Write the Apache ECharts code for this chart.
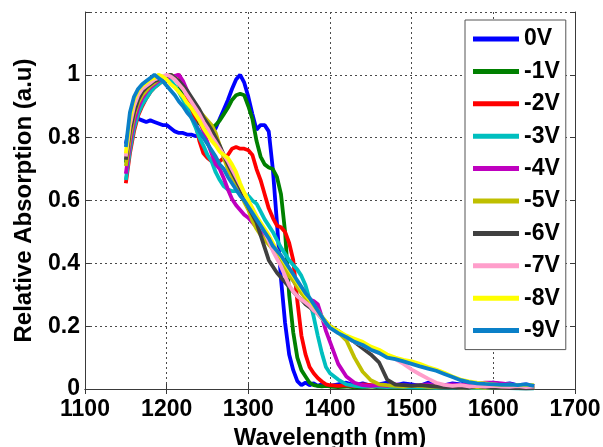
<!DOCTYPE html>
<html>
<head>
<meta charset="utf-8">
<script src="https://cdn.jsdelivr.net/npm/echarts@6/dist/echarts.min.js"></script>
<style>
html,body{margin:0;padding:0;background:#fff;}
#c{width:603px;height:447px;}
</style>
</head>
<body>
<div id="c"></div>
<script>
// Wavelength samples (nm)
const wavelength = [
 1150,1155,1160,1165,1170,1175,1180,1185,1190,1195,
 1200,1205,1210,1215,1220,1225,1230,1235,1240,1245,
 1250,1255,1260,1265,1270,1275,1280,1285,1290,1295,
 1300,1305,1310,1315,1320,1325,1330,1335,1340,1345,
 1350,1355,1360,1365,1370,1375,1380,1385,1390,1395,
 1400,1410,1420,1430,1440,1450,1460,1470,1480,1490,
 1500,1510,1520,1530,1540,1550,1560,1570,1580,1590,
 1600,1610,1620,1630,1640,1650];

const seriesNames = ['0V','-1V','-2V','-3V','-4V','-5V','-6V','-7V','-8V','-9V'];

const abs0V = [0.78,0.84,0.865,0.86,0.855,0.85,0.855,0.85,0.845,0.84,
 0.84,0.83,0.82,0.815,0.815,0.81,0.81,0.805,0.805,0.81,
 0.81,0.815,0.83,0.86,0.89,0.92,0.955,0.985,1.0,0.975,
 0.93,0.875,0.825,0.84,0.84,0.82,0.70,0.53,0.35,0.21,
 0.11,0.06,0.025,0.012,0.02,0.012,0.018,0.01,0.015,0.012,
 0.01,0.015,0.02,0.012,0.018,0.01,0.015,0.02,0.012,0.018,
 0.015,0.01,0.02,0.015,0.012,0.018,0.015,0.02,0.012,0.015,
 0.02,0.015,0.018,0.012,0.015,0.01];
const abs1V = [0.72,0.82,0.88,0.92,0.945,0.96,0.97,0.98,0.985,0.99,
 0.995,1.0,0.99,0.97,0.93,0.895,0.875,0.86,0.845,0.835,
 0.83,0.83,0.84,0.855,0.875,0.895,0.92,0.935,0.94,0.935,
 0.90,0.86,0.79,0.74,0.715,0.705,0.70,0.675,0.62,0.50,
 0.30,0.18,0.10,0.06,0.04,0.02,0.012,0.01,0.008,0.01,
 0.008,0.006,0.008,0.005,0.006,0.008,0.005,0.006,0.004,0.005,
 0.006,0.004,0.005,0.004,0.006,0.004,0.005,0.004,0.003,0.004,
 0.005,0.003,0.004,0.003,0.004,0.003];
const abs2V = [0.655,0.75,0.82,0.87,0.90,0.925,0.945,0.96,0.97,0.98,
 0.985,0.99,0.995,1.0,0.97,0.93,0.895,0.85,0.79,0.75,
 0.735,0.725,0.72,0.725,0.735,0.745,0.765,0.77,0.765,0.765,
 0.76,0.745,0.70,0.665,0.62,0.575,0.545,0.52,0.515,0.50,
 0.465,0.41,0.28,0.17,0.11,0.07,0.05,0.035,0.024,0.015,
 0.012,0.01,0.012,0.008,0.015,0.012,0.008,0.01,0.006,0.008,
 0.006,0.008,0.005,0.006,0.005,0.006,0.004,0.005,0.004,0.005,
 0.004,0.003,0.004,0.003,0.004,0.003];
const abs3V = [0.665,0.76,0.83,0.875,0.905,0.925,0.945,0.96,0.97,0.98,
 0.985,0.98,0.965,0.945,0.92,0.895,0.865,0.835,0.80,0.775,
 0.745,0.725,0.69,0.665,0.645,0.635,0.63,0.63,0.625,0.62,
 0.615,0.60,0.59,0.565,0.54,0.52,0.50,0.475,0.45,0.43,
 0.41,0.395,0.38,0.36,0.33,0.285,0.23,0.17,0.115,0.07,
 0.05,0.03,0.015,0.01,0.008,0.01,0.008,0.006,0.008,0.006,
 0.005,0.006,0.005,0.004,0.005,0.004,0.005,0.004,0.003,0.004,
 0.003,0.004,0.003,0.002,0.003,0.002];
const abs4V = [0.685,0.78,0.85,0.895,0.925,0.945,0.96,0.97,0.98,0.985,
 0.99,0.993,0.997,1.0,0.98,0.95,0.92,0.885,0.855,0.82,
 0.785,0.75,0.715,0.70,0.67,0.635,0.605,0.585,0.57,0.555,
 0.545,0.53,0.515,0.50,0.485,0.465,0.445,0.425,0.405,0.385,
 0.365,0.345,0.325,0.31,0.295,0.285,0.28,0.27,0.23,0.185,
 0.15,0.08,0.04,0.02,0.012,0.01,0.012,0.01,0.015,0.012,
 0.01,0.012,0.015,0.01,0.012,0.015,0.012,0.015,0.018,0.02,
 0.02,0.018,0.015,0.012,0.01,0.008];
const abs5V = [0.71,0.80,0.87,0.91,0.935,0.95,0.965,0.975,0.985,0.99,
 0.995,1.0,0.99,0.975,0.96,0.945,0.925,0.905,0.885,0.87,
 0.855,0.84,0.815,0.775,0.735,0.70,0.675,0.655,0.625,0.595,
 0.57,0.535,0.51,0.49,0.475,0.46,0.445,0.42,0.40,0.38,
 0.36,0.345,0.325,0.305,0.29,0.275,0.26,0.245,0.23,0.215,
 0.20,0.18,0.155,0.10,0.055,0.028,0.015,0.012,0.01,0.008,
 0.01,0.009,0.007,0.008,0.006,0.007,0.005,0.006,0.005,0.004,
 0.005,0.004,0.003,0.004,0.003,0.003];
const abs6V = [0.73,0.82,0.88,0.92,0.945,0.96,0.97,0.98,0.985,0.99,
 0.995,1.0,0.99,0.98,0.965,0.95,0.93,0.91,0.89,0.865,
 0.845,0.825,0.80,0.775,0.745,0.715,0.69,0.665,0.64,0.61,
 0.58,0.555,0.53,0.49,0.45,0.41,0.39,0.37,0.355,0.34,
 0.325,0.31,0.295,0.285,0.27,0.26,0.25,0.24,0.225,0.21,
 0.20,0.185,0.165,0.15,0.13,0.11,0.085,0.03,0.014,0.012,
 0.01,0.012,0.01,0.008,0.006,0.005,0.006,0.004,0.01,0.006,
 0.004,0.004,0.003,0.003,0.002,0.003];
const abs7V = [0.74,0.84,0.90,0.935,0.955,0.965,0.975,0.985,0.99,0.995,
 1.0,0.995,0.985,0.97,0.955,0.935,0.915,0.895,0.875,0.85,
 0.83,0.805,0.785,0.765,0.745,0.725,0.70,0.675,0.65,0.625,
 0.60,0.575,0.55,0.525,0.50,0.47,0.44,0.415,0.39,0.36,
 0.33,0.31,0.295,0.285,0.275,0.265,0.25,0.24,0.225,0.21,
 0.195,0.18,0.165,0.15,0.14,0.125,0.115,0.105,0.095,0.08,
 0.062,0.047,0.033,0.02,0.013,0.01,0.012,0.008,0.01,0.008,
 0.01,0.008,0.007,0.009,0.006,0.008];
const abs8V = [0.75,0.86,0.92,0.95,0.965,0.975,0.985,0.99,1.0,0.995,
 0.985,0.97,0.96,0.945,0.93,0.91,0.895,0.875,0.855,0.83,
 0.81,0.79,0.775,0.755,0.745,0.735,0.715,0.69,0.655,0.625,
 0.60,0.575,0.55,0.53,0.51,0.49,0.465,0.44,0.42,0.40,
 0.38,0.36,0.34,0.32,0.30,0.285,0.265,0.25,0.23,0.215,
 0.20,0.185,0.17,0.16,0.15,0.135,0.125,0.11,0.10,0.093,
 0.088,0.08,0.07,0.062,0.052,0.04,0.03,0.024,0.02,0.018,
 0.015,0.012,0.014,0.012,0.013,0.012];
const abs9V = [0.77,0.88,0.93,0.955,0.97,0.98,0.99,1.0,0.99,0.98,
 0.965,0.95,0.935,0.915,0.90,0.88,0.865,0.845,0.82,0.80,
 0.78,0.76,0.74,0.715,0.70,0.675,0.655,0.635,0.615,0.60,
 0.58,0.56,0.54,0.52,0.50,0.48,0.455,0.44,0.425,0.405,
 0.385,0.365,0.345,0.325,0.305,0.29,0.27,0.25,0.23,0.21,
 0.195,0.178,0.165,0.15,0.14,0.125,0.115,0.10,0.095,0.088,
 0.08,0.072,0.065,0.058,0.048,0.038,0.028,0.022,0.018,0.016,
 0.015,0.013,0.014,0.012,0.015,0.01];

const seriesValues = [abs0V,abs1V,abs2V,abs3V,abs4V,abs5V,abs6V,abs7V,abs8V,abs9V];
const seriesColors = ['#0000ff','#008000','#ff0000','#00bfbf','#bf00bf','#bfbf00','#404040','#ff9ecb','#ffff00','#0a80c8'];

const xTicks = {min:1100, max:1700, step:100};
const yTicks = {min:0, max:1.2, step:0.2};

const FONT = '"Liberation Sans", Arial, sans-serif';
const chart = echarts.init(document.getElementById('c'), null, {renderer:'canvas'});

const axisLine = {show:true, lineStyle:{color:'#3a3a3a', width:1}};
const tick = {show:true, inside:true, length:5, lineStyle:{color:'#3a3a3a'}};
const grid = {show:true, lineStyle:{color:'#4a4a4a', width:1, type:[2,3]}};
const labelStyle = {color:'#000', fontSize:23, fontWeight:'bold', fontFamily:FONT};

const series = seriesNames.map((n,i)=>({
  name:n, type:'line', showSymbol:false, symbol:'none',
  data: wavelength.map((w,j)=>[w, seriesValues[i][j]]),
  lineStyle:{color:seriesColors[i], width:3.8},
  itemStyle:{color:seriesColors[i]},
  z: 2+i, animation:false
}));

chart.setOption({
  animation:false,
  backgroundColor:'#fff',
  grid:{left:85, right:28, top:12, bottom:58, containLabel:false, outerBoundsMode:'none'},
  xAxis:[
    {type:'value', min:xTicks.min, max:xTicks.max, interval:xTicks.step,
     axisLine:axisLine, axisTick:tick, splitLine:grid,
     axisLabel:Object.assign({margin:9, formatter:v=>String(v)}, labelStyle),
     name:'Wavelength (nm)', nameLocation:'middle', nameGap:29,
     nameTextStyle:{color:'#000', fontSize:24, fontWeight:'bold', fontFamily:FONT}},
    {type:'value', position:'top', min:xTicks.min, max:xTicks.max, interval:xTicks.step,
     axisLine:axisLine, axisTick:tick, splitLine:{show:false}, axisLabel:{show:false}}
  ],
  yAxis:[
    {type:'value', min:yTicks.min, max:yTicks.max, interval:yTicks.step,
     axisLine:axisLine, axisTick:tick, splitLine:grid,
     axisLabel:Object.assign({margin:5, formatter:v=>(Math.abs(v-1.2)<1e-6?'':String(+v.toFixed(1)))}, labelStyle),
     name:'Relative Absorption (a.u)', nameLocation:'middle', nameGap:49,
     nameTextStyle:{color:'#000', fontSize:24, fontWeight:'bold', fontFamily:FONT}},
    {type:'value', position:'right', min:yTicks.min, max:yTicks.max, interval:yTicks.step,
     axisLine:axisLine, axisTick:tick, splitLine:{show:false}, axisLabel:{show:false}}
  ],
  legend:{
    orient:'vertical', left:465, top:20,
    data:seriesNames, icon:'rect', itemWidth:46, itemHeight:5, itemGap:8.4,
    padding:[7,6,7,8], backgroundColor:'#fff', borderColor:'#555', borderWidth:1,
    textStyle:{color:'#000', fontSize:23, fontWeight:'bold', fontFamily:FONT, lineHeight:24},
    selectedMode:false
  },
  series:series
});
</script>
</body>
</html>
